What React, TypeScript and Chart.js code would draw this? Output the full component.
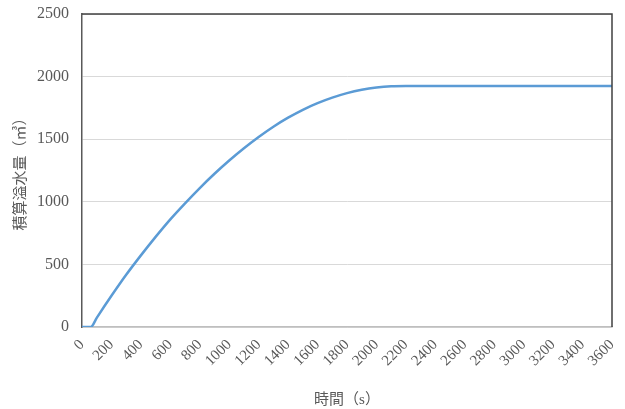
import React, { useEffect, useRef } from "react";
import { Chart, registerables } from "chart.js";

Chart.register(...registerables);

const times = [0, 60, 100, 200, 300, 400, 500, 600, 700, 800, 900, 1000, 1100, 1200, 1300, 1400, 1500, 1600, 1700, 1800, 1900, 2000, 2100, 2200, 2400, 2600, 2800, 3000, 3200, 3400, 3600];
const volumes = [0, 0, 73, 249, 417, 572, 720, 860, 988, 1110, 1224, 1330, 1428, 1518, 1600, 1672, 1735, 1788, 1832, 1868, 1895, 1913, 1923, 1925, 1925, 1925, 1925, 1925, 1925, 1925, 1925];
const yTitle = "積算溢水量（㎥）";
const xTitle = "時間（s）";

const FONT = "'Liberation Serif', 'Noto Sans CJK JP', serif";

const borderPlugin = {
  id: "plotBorder",
  afterDraw(chart: any) {
    const { ctx, chartArea } = chart;
    const { left, right, top, bottom } = chartArea;
    ctx.save();
    ctx.strokeStyle = "#404040";
    ctx.lineWidth = 1.5;
    ctx.beginPath();
    ctx.moveTo(left, top);
    ctx.lineTo(right, top);
    ctx.lineTo(right, bottom);
    ctx.stroke();
    ctx.restore();
  },
};

export default function App() {
  const ref = useRef<HTMLCanvasElement>(null);
  useEffect(() => {
    document.body.style.margin = "0";
    const data = times.map((t, i) => ({ x: t, y: volumes[i] }));
    const chart = new Chart(ref.current!, {
      type: "line",
      data: {
        datasets: [
          {
            data,
            borderColor: "#5b9bd5",
            borderWidth: 2.5,
            pointRadius: 0,
            cubicInterpolationMode: "monotone",
            fill: false,
          },
        ],
      },
      options: {
        animation: false,
        responsive: false,
        maintainAspectRatio: false,
        layout: { padding: { left: 12, right: 13, top: 14, bottom: 0 } },
        plugins: { legend: { display: false }, tooltip: { enabled: false } },
        scales: {
          x: {
            type: "linear",
            min: 0,
            max: 3600,
            afterFit(scale: any) {
              scale.height = 82;
              scale.paddingLeft = 0;
              scale.paddingRight = 0;
            },
            ticks: {
              stepSize: 200,
              autoSkip: false,
              minRotation: 45,
              maxRotation: 45,
              padding: 9,
              color: "#595959",
              font: { family: FONT, size: 15 },
              callback: (v: any) => String(v),
            },
            grid: { display: false, drawTicks: false },
            border: { display: true, color: "#bfbfbf", width: 1.5 },
            title: {
              display: true,
              text: xTitle,
              color: "#595959",
              font: { family: FONT, size: 15 },
              padding: 0,
            },
          },
          y: {
            min: 0,
            max: 2500,
            afterFit(scale: any) {
              scale.width = 70;
              scale.paddingTop = 0;
              scale.paddingBottom = 0;
            },
            ticks: {
              stepSize: 500,
              padding: 13,
              color: "#595959",
              font: { family: FONT, size: 16 },
              callback: (v: any) => String(v),
            },
            grid: { color: "#d9d9d9", lineWidth: 1, drawTicks: false },
            border: { display: true, color: "#595959", width: 1.5 },
            title: {
              display: true,
              text: yTitle,
              color: "#595959",
              font: { family: FONT, size: 15 },
              padding: 0,
            },
          },
        },
      },
      plugins: [borderPlugin],
    } as any);
    return () => chart.destroy();
  }, []);
  return (
    <div style={{ width: 625, height: 409 }}>
      <canvas ref={ref} width={625} height={409} style={{ display: "block" }} />
    </div>
  );
}
